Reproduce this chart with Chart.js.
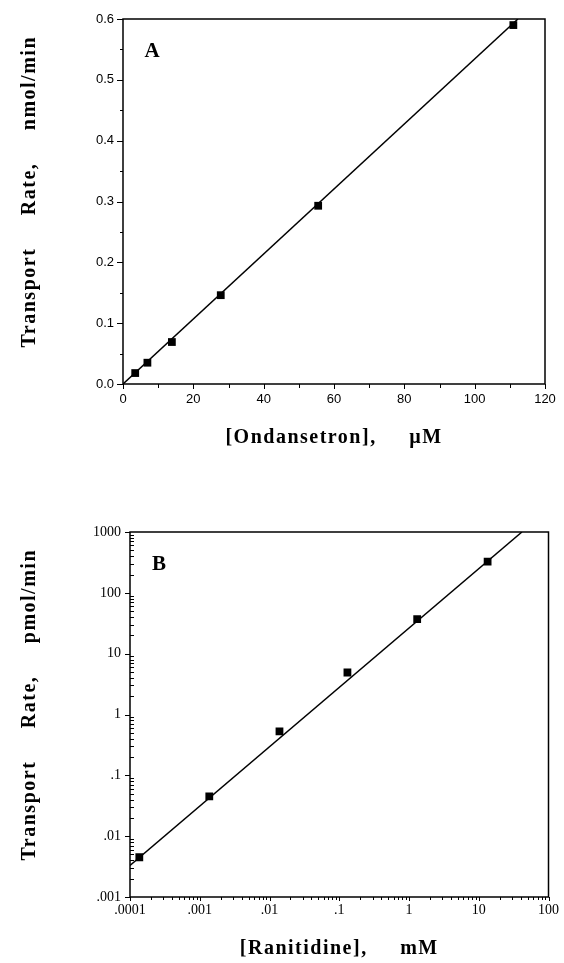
<!DOCTYPE html>
<html lang="en">
<head>
  <meta charset="UTF-8">
  <title>Transport rate vs ondansetron / ranitidine</title>
  <script src="https://cdn.jsdelivr.net/npm/chart.js"></script>
  <style>
    body { margin: 0; background: #fff; }
    .panel { position: absolute; left: 0; width: 564px; }
    #panelA { top: 0; height: 470px; }
    #panelB { top: 480px; height: 483px; }
  </style>
</head>
<body>
  <div class="panel" id="panelA"><canvas id="chartA" width="564" height="470"></canvas></div>
  <div class="panel" id="panelB"><canvas id="chartB" width="564" height="483"></canvas></div>

  <script>
    // panel A: ondansetron (linear axes)
    const ondansetronUM = [3.47, 6.94, 13.9, 27.8, 55.5, 111];
    const rateA = [0.018, 0.035, 0.069, 0.146, 0.293, 0.590];
    const fitAx = [0, 112.3];
    const fitAy = [0, 0.6];
    const xTicksA = [0, 20, 40, 60, 80, 100, 120];
    const xMinorA = [10, 30, 50, 70, 90, 110];
    const yTicksA = [0, 0.1, 0.2, 0.3, 0.4, 0.5, 0.6];
    const yLabelsA = ['0.0', '0.1', '0.2', '0.3', '0.4', '0.5', '0.6'];
    const yMinorA = [0.05, 0.15, 0.25, 0.35, 0.45, 0.55];

    // panel B: ranitidine (log-log)
    const ranitidineMM = [0.000136, 0.00137, 0.0139, 0.131, 1.31, 13.4];
    const rateB = [0.0045, 0.045, 0.53, 4.9, 37, 326];
    const fitBx = [0.0001, 41.6];
    const fitBy = [0.0033, 1000];
    const xTicksB = [0.0001, 0.001, 0.01, 0.1, 1, 10, 100];
    const xLabelsB = ['.0001', '.001', '.01', '.1', '1', '10', '100'];
    const yTicksB = [0.001, 0.01, 0.1, 1, 10, 100, 1000];
    const yLabelsB = ['.001', '.01', '.1', '1', '10', '100', '1000'];

    function logMinors(decades) {
      const out = [];
      decades.slice(0, -1).forEach(d => { for (let k = 2; k <= 9; k++) out.push(d * k); });
      return out;
    }

    const titleFont = { family: '"Liberation Serif", serif', size: 20, weight: 'bold' };
    const sansTick = { family: '"Liberation Sans", Arial, sans-serif', size: 13 };
    const serifTick = { family: '"Liberation Serif", serif', size: 14 };

    // box frame, tick marks and the panel letter, all placed through the chart's scales
    const frameTicks = {
      id: 'frameTicks',
      beforeDatasetsDraw(chart, args, o) {
        const { ctx, chartArea: a } = chart;
        const sx = chart.scales.x, sy = chart.scales.y;
        ctx.save();
        ctx.strokeStyle = '#000';
        ctx.lineWidth = 1.5;
        ctx.strokeRect(a.left, a.top, a.right - a.left, a.bottom - a.top);
        ctx.lineWidth = 1;
        ctx.beginPath();
        const xMarks = (vals, len) => vals.forEach(v => {
          const p = Math.round(sx.getPixelForValue(v)) + 0.5;
          ctx.moveTo(p, a.bottom); ctx.lineTo(p, a.bottom + len);
        });
        const yMarks = (vals, len) => vals.forEach(v => {
          const p = Math.round(sy.getPixelForValue(v)) + 0.5;
          ctx.moveTo(a.left, p); ctx.lineTo(a.left - len, p);
        });
        xMarks(o.xMajor, o.xMajorLen);
        xMarks(o.xMinor, o.xMinorLen);
        yMarks(o.yMajor, o.yMajorLen);
        yMarks(o.yMinor, o.yMinorLen);
        ctx.stroke();
        ctx.font = 'bold 21px "Liberation Serif", serif';
        ctx.fillStyle = '#000';
        ctx.textAlign = 'center';
        ctx.textBaseline = 'middle';
        ctx.fillText(o.letter, a.left + 29, a.top + 33);
        ctx.restore();
      }
    };

    // wider letter spacing on the axis titles, like the typeset original
    const spacedTitles = {
      id: 'spacedTitles',
      afterLayout(chart) {
        Object.values(chart.scales).forEach(s => {
          if (s._spaced) return;
          const orig = s.drawTitle.bind(s);
          s.drawTitle = () => {
            s.ctx.save();
            s.ctx.letterSpacing = '1.5px';
            orig();
            s.ctx.restore();
          };
          s._spaced = true;
        });
      }
    };

    function datasets(xs, ys, fx, fy) {
      return [
        {
          data: xs.map((x, i) => ({ x: x, y: ys[i] })),
          pointStyle: 'rect', pointRadius: 5.5, pointBackgroundColor: '#000',
          pointBorderColor: '#000', pointBorderWidth: 0, showLine: false
        },
        {
          data: fx.map((x, i) => ({ x: x, y: fy[i] })),
          showLine: true, borderColor: '#000', borderWidth: 1.5, pointRadius: 0
        }
      ];
    }

    new Chart(document.getElementById('chartA'), {
      type: 'scatter',
      data: { datasets: datasets(ondansetronUM, rateA, fitAx, fitAy) },
      plugins: [frameTicks, spacedTitles],
      options: {
        responsive: false,
        animation: false,
        layout: { padding: { top: 19, right: 19, left: 0, bottom: 0 } },
        plugins: {
          legend: { display: false },
          tooltip: { enabled: false },
          frameTicks: {
            letter: 'A',
            xMajor: xTicksA, xMajorLen: 5, xMinor: xMinorA, xMinorLen: 4,
            yMajor: yTicksA, yMajorLen: 6, yMinor: yMinorA, yMinorLen: 3
          }
        },
        scales: {
          x: {
            type: 'linear', min: 0, max: 120,
            afterFit: s => { s.height = 86; },
            grid: { display: false, drawTicks: false },
            border: { display: false },
            ticks: { stepSize: 20, padding: 8, color: '#000', font: sansTick, maxRotation: 0, autoSkip: false },
            title: { display: true, text: '[Ondansetron],     µM', color: '#000', font: titleFont, padding: { bottom: 20 } }
          },
          y: {
            type: 'linear', min: 0, max: 0.6,
            afterFit: s => { s.width = 123; },
            grid: { display: false, drawTicks: false },
            border: { display: false },
            ticks: { stepSize: 0.1, padding: 9, color: '#000', font: sansTick, autoSkip: false,
                     callback: (v, i) => yLabelsA[i] },
            title: { display: true, text: '   Transport     Rate,     nmol/min', color: '#000', font: titleFont, padding: { top: 18 } }
          }
        }
      }
    });

    new Chart(document.getElementById('chartB'), {
      type: 'scatter',
      data: { datasets: datasets(ranitidineMM, rateB, fitBx, fitBy) },
      plugins: [frameTicks, spacedTitles],
      options: {
        responsive: false,
        animation: false,
        layout: { padding: { top: 52, right: 14, left: 0, bottom: 0 } },
        plugins: {
          legend: { display: false },
          tooltip: { enabled: false },
          frameTicks: {
            letter: 'B',
            xMajor: xTicksB, xMajorLen: 4, xMinor: logMinors(xTicksB), xMinorLen: 3,
            yMajor: yTicksB, yMajorLen: 5, yMinor: logMinors(yTicksB), yMinorLen: -4
          }
        },
        scales: {
          x: {
            type: 'logarithmic', min: 0.0001, max: 100,
            afterFit: s => { s.height = 66; },
            afterBuildTicks: s => { s.ticks = xTicksB.map(v => ({ value: v })); },
            grid: { display: false, drawTicks: false },
            border: { display: false },
            ticks: { padding: 5, color: '#000', font: serifTick, maxRotation: 0, autoSkip: false,
                     callback: (v, i) => xLabelsB[i] },
            title: { display: true, text: '[Ranitidine],     mM', color: '#000', font: titleFont, padding: { bottom: 2 } }
          },
          y: {
            type: 'logarithmic', min: 0.001, max: 1000,
            afterFit: s => { s.width = 130; },
            afterBuildTicks: s => { s.ticks = yTicksB.map(v => ({ value: v })); },
            grid: { display: false, drawTicks: false },
            border: { display: false },
            ticks: { padding: 9, color: '#000', font: serifTick, autoSkip: false,
                     callback: (v, i) => yLabelsB[i] },
            title: { display: true, text: '   Transport     Rate,     pmol/min', color: '#000', font: titleFont, padding: { top: 18 } }
          }
        }
      }
    });
  </script>
</body>
</html>
